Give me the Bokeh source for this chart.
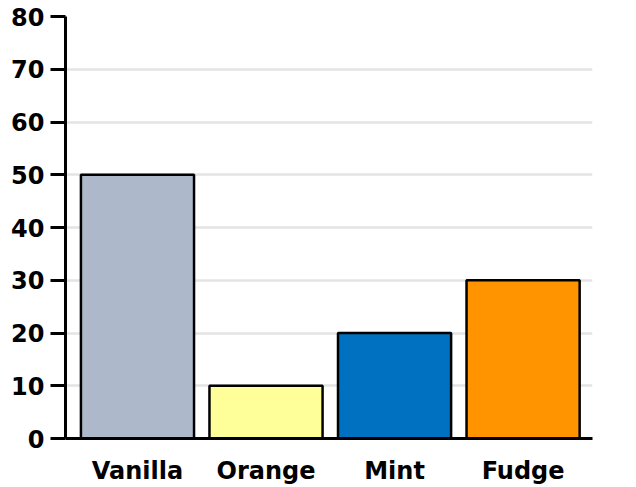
from bokeh.plotting import figure
from bokeh.models import Range1d, FixedTicker, ColumnDataSource
from bokeh.embed import file_html
from bokeh.resources import INLINE

categories = ["Vanilla", "Orange", "Mint", "Fudge"]
values = [50, 10, 20, 30]
colors = ["#adb9ca", "#ffff99", "#0070c0", "#ff9300"]
y_ticks = [0, 10, 20, 30, 40, 50, 60, 70, 80]

positions = list(range(len(categories)))
src = ColumnDataSource(dict(x=positions, top=values, color=colors, name=categories))

p = figure(width=636, height=487, output_backend="svg", toolbar_location=None,
           x_range=Range1d(-0.56, 3.54), y_range=Range1d(0, 80),
           min_border_left=65, min_border_right=44, min_border_top=16, min_border_bottom=49)
p.outline_line_color = None
p.background_fill_color = "white"

p.vbar(x="x", top="top", bottom=0, width=0.88, fill_color="color",
       line_color="black", line_width=2.5, source=src)

p.xgrid.grid_line_color = None
p.ygrid.grid_line_color = "#e4e4e4"
p.ygrid.grid_line_width = 2.5
p.ygrid.ticker = FixedTicker(ticks=y_ticks)

font = "DejaVu Sans"

p.yaxis.ticker = FixedTicker(ticks=y_ticks)
p.yaxis.axis_line_width = 3
p.yaxis.axis_line_color = "black"
p.yaxis.major_tick_line_width = 3
p.yaxis.major_tick_line_color = "black"
p.yaxis.major_tick_out = 15
p.yaxis.major_tick_in = 0
p.yaxis.minor_tick_line_color = None
p.yaxis.major_label_text_font = font
p.yaxis.major_label_text_font_style = "bold"
p.yaxis.major_label_text_font_size = "24px"
p.yaxis.major_label_text_color = "black"
p.yaxis.major_label_standoff = 6

p.xaxis.ticker = FixedTicker(ticks=positions)
p.xaxis.major_label_overrides = {i: c for i, c in zip(positions, categories)}
p.xaxis.axis_line_width = 3
p.xaxis.axis_line_color = "black"
p.xaxis.major_tick_line_color = None
p.xaxis.major_tick_out = 0
p.xaxis.major_tick_in = 0
p.xaxis.minor_tick_line_color = None
p.xaxis.major_label_text_font = font
p.xaxis.major_label_text_font_style = "bold"
p.xaxis.major_label_text_font_size = "24px"
p.xaxis.major_label_text_color = "black"
p.xaxis.major_label_standoff = 18

open("out.html", "w").write(file_html(p, INLINE))
